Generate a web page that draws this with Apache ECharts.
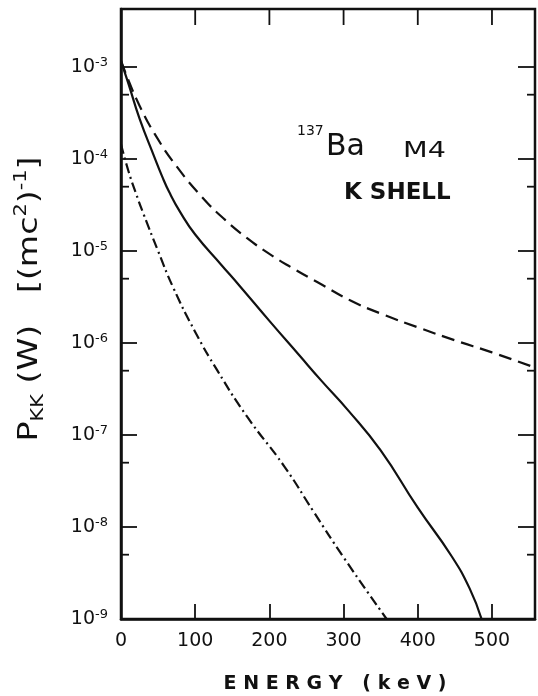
<!DOCTYPE html>
<html>
<head>
<meta charset="utf-8">
<script src="https://cdn.jsdelivr.net/npm/echarts@6/dist/echarts.min.js"></script>
<style>
  html, body { margin: 0; padding: 0; background: #fff; }
  #chart { width: 538px; height: 696px; }
</style>
</head>
<body>
<div id="chart"></div>
<script>
// energy (keV) and P_KK values
const solidE = [0, 10, 25, 45, 55, 65, 80, 100, 135, 160, 200, 240, 270, 305, 350, 400, 445, 470, 486];
const solidP = [1.15e-3, 6.6e-4, 2.75e-4, 1.05e-4, 6.6e-5, 4.37e-5, 2.63e-5, 1.51e-5, 7.1e-6, 4.17e-6, 1.74e-6, 7.4e-7, 3.9e-7, 1.9e-7, 6.8e-8, 1.62e-8, 4.9e-9, 2.14e-9, 1.0e-9];

const dashedE = [0, 10, 25, 45, 75, 110, 140, 170, 200, 230, 265, 310, 350, 400, 450, 500, 558];
const dashedP = [1.17e-3, 7.2e-4, 3.8e-4, 1.9e-4, 8.3e-5, 3.8e-5, 2.19e-5, 1.38e-5, 9.3e-6, 6.6e-6, 4.57e-6, 2.88e-6, 2.09e-6, 1.48e-6, 1.07e-6, 7.9e-7, 5.4e-7];

const dashDotE = [0, 10, 20, 30, 50, 70, 100, 130, 170, 220, 260, 300, 358];
const dashDotP = [1.45e-4, 7.4e-5, 4.27e-5, 2.57e-5, 1.0e-5, 4.07e-6, 1.32e-6, 5.0e-7, 1.58e-7, 4.57e-8, 1.45e-8, 4.68e-9, 1.0e-9];

// axes
const xTicks = [0, 100, 200, 300, 400, 500];
const yDecades = [1e-9, 1e-8, 1e-7, 1e-6, 1e-5, 1e-4, 1e-3];
const minorTicks = [5e-9, 5e-8, 5e-7, 5e-6, 5e-5, 5e-4];
const yMin = 1e-9;
const yMax = 4.27e-3;
const xMax = 558;

const ink = '#111';
const zip = (a, b) => a.map((v, i) => [v, b[i]]);

let chart = echarts.init(document.getElementById('chart'));

// short tick marks on the top and right edges of the frame
function edgeTicks(data, side, len) {
    return {
        type: 'custom',
        data: data,
        clip: false,
        silent: true,
        renderItem: (params, api) => {
            let p, shape;
            if (side === 'top') {
                p = api.coord([api.value(0), yMax]);
                shape = { x1: p[0], y1: p[1], x2: p[0], y2: p[1] + len };
            } else if (side === 'right') {
                p = api.coord([xMax, api.value(1)]);
                shape = { x1: p[0] - len, y1: p[1], x2: p[0], y2: p[1] };
            } else {
                p = api.coord([0, api.value(1)]);
                shape = { x1: p[0], y1: p[1], x2: p[0] + len, y2: p[1] };
            }
            return { type: 'line', shape: shape, style: { stroke: ink, lineWidth: 1.8 } };
        }
    };
}

chart.setOption({
    animation: false,
    grid: { left: 121, right: 2, top: 9, bottom: 77, show: true, borderColor: ink, borderWidth: 2.5 },
    xAxis: {
        type: 'value',
        min: 0,
        max: xMax,
        interval: 100,
        splitLine: { show: false },
        axisLine: { show: true, onZero: false, lineStyle: { color: ink, width: 2.5 } },
        axisTick: { show: true, inside: true, length: 15, lineStyle: { color: ink, width: 1.8 } },
        axisLabel: {
            margin: 13,
            color: ink,
            fontFamily: 'DejaVu Sans',
            fontSize: 19,
            formatter: v => (xTicks.indexOf(v) >= 0 ? String(v) : '')
        }
    },
    yAxis: {
        type: 'log',
        min: yMin,
        max: yMax,
        interval: 1,
        splitLine: { show: false },
        minorTick: { show: false },
        axisLine: { show: true, lineStyle: { color: ink, width: 2.5 } },
        axisTick: { show: true, inside: true, length: 16, lineStyle: { color: ink, width: 1.8 } },
        axisLabel: {
            margin: 13,
            color: ink,
            fontFamily: 'DejaVu Sans',
            formatter: v => {
                const e = Math.log10(v);
                if (Math.abs(e - Math.round(e)) > 1e-6) return '';
                return '{b|10}{s|-' + (-Math.round(e)) + '}';
            },
            rich: {
                b: { fontSize: 19, lineHeight: 22, color: ink, fontFamily: 'DejaVu Sans' },
                s: { fontSize: 13, lineHeight: 22, verticalAlign: 'top', color: ink, fontFamily: 'DejaVu Sans' }
            }
        }
    },
    series: [
        {
            type: 'line',
            data: zip(solidE, solidP),
            showSymbol: false,
            smooth: 0.5,
            lineStyle: { color: ink, width: 2.2 }
        },
        {
            type: 'line',
            data: zip(dashedE, dashedP),
            showSymbol: false,
            smooth: 0.5,
            lineStyle: { color: ink, width: 2.2, type: [13, 7] }
        },
        {
            type: 'line',
            data: zip(dashDotE, dashDotP),
            showSymbol: false,
            smooth: 0.5,
            lineStyle: { color: ink, width: 2.2, type: [10, 4, 2, 4] }
        },
        edgeTicks(xTicks.slice(1).map(v => [v, yMax]), 'top', 16),
        edgeTicks(yDecades.map(v => [xMax, v]), 'right', 17),
        edgeTicks(minorTicks.map(v => [xMax, v]), 'right', 8),
        edgeTicks(minorTicks.map(v => [0, v]), 'left', 8)
    ],
    graphic: [
        {
            type: 'text', x: 30, y: 299, rotation: Math.PI / 2, scaleX: 1.23,
            style: {
                text: '{m|P}{sub|KK}{m| (W)   [(mc}{sup|2}{m|)}{sup|-1}{m|]}',
                align: 'center', verticalAlign: 'middle',
                rich: {
                    m: { fontSize: 27, lineHeight: 34, fontFamily: 'DejaVu Sans', fill: ink },
                    sub: { fontSize: 17, lineHeight: 34, verticalAlign: 'bottom', fontFamily: 'DejaVu Sans', fill: ink },
                    sup: { fontSize: 17, lineHeight: 34, verticalAlign: 'top', fontFamily: 'DejaVu Sans', fill: ink }
                }
            }
        },
        {
            type: 'text', x: 335, y: 684,
            style: {
                text: 'E N E R G Y   ( k e V )',
                align: 'center', verticalAlign: 'middle',
                font: 'bold 19px "DejaVu Sans"', fill: ink
            }
        },
        {
            type: 'text', x: 297, y: 131,
            style: { text: '137', align: 'left', verticalAlign: 'middle', font: '14px "DejaVu Sans"', fill: ink }
        },
        {
            type: 'text', x: 326, y: 147,
            style: { text: 'Ba', align: 'left', verticalAlign: 'middle', font: '30px "DejaVu Sans"', fill: ink }
        },
        {
            type: 'text', x: 403, y: 151, scaleX: 1.3,
            style: { text: 'M4', align: 'left', verticalAlign: 'middle', font: '22px "DejaVu Sans"', fill: ink }
        },
        {
            type: 'text', x: 344, y: 193,
            style: { text: 'K SHELL', align: 'left', verticalAlign: 'middle', font: 'bold 23px "DejaVu Sans"', fill: ink }
        }
    ]
});
</script>
</body>
</html>
